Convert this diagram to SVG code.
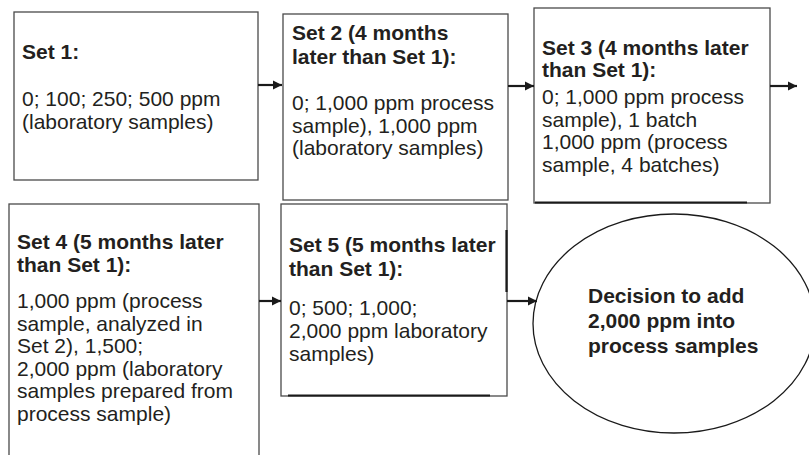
<svg xmlns="http://www.w3.org/2000/svg" width="809" height="455" viewBox="0 0 809 455">
<defs>
<style>
.box{fill:#fff;stroke:#4a4a4a;stroke-width:1.3}
.dk{stroke:#1a1a1a;stroke-width:2.2;fill:none}
.t{font-family:"Liberation Sans",Arial,sans-serif;font-size:21px;fill:#231f20}
.b{font-family:"Liberation Sans",Arial,sans-serif;font-size:21px;font-weight:bold;fill:#231f20}
.conn line{stroke:#1a1a1a;stroke-width:2.2}
</style>
<marker id="ah" viewBox="0 0 10 10" refX="10" refY="5" markerWidth="4.4" markerHeight="4.2" markerUnits="strokeWidth" orient="auto">
<path d="M0,0 L10,5 L0,10 z" fill="#1a1a1a"/>
</marker>
</defs>
<rect width="809" height="455" fill="#fff"/>
<g id="set1">
<rect class="box" x="14" y="12" width="244" height="168"/>
<text class="b" x="22" y="59">Set 1:</text>
<text class="t" x="22" y="106">0; 100; 250; 500 ppm</text>
<text class="t" x="22" y="128.5">(laboratory samples)</text>
</g>
<g id="set2">
<rect class="box" x="283" y="14" width="225" height="186"/>
<text class="b" x="292" y="40">Set 2 (4 months</text>
<text class="b" x="292" y="64">later than Set 1):</text>
<text class="t" x="292" y="110">0; 1,000 ppm process</text>
<text class="t" x="292" y="132.5">sample), 1,000 ppm</text>
<text class="t" x="292" y="155">(laboratory samples)</text>
</g>
<g id="set3">
<rect class="box" x="534" y="8" width="236" height="195"/>
<line class="dk" x1="535" y1="202.5" x2="747" y2="202.5"/>
<text class="b" x="542" y="55">Set 3 (4 months later</text>
<text class="b" x="542" y="77">than Set 1):</text>
<text class="t" x="542" y="104">0; 1,000 ppm process</text>
<text class="t" x="542" y="126.5">sample), 1 batch</text>
<text class="t" x="542" y="149">1,000 ppm (process</text>
<text class="t" x="542" y="171.5">sample, 4 batches)</text>
</g>
<g id="set4">
<rect class="box" x="9" y="204" width="250" height="260"/>
<text class="b" x="17" y="249">Set 4 (5 months later</text>
<text class="b" x="17" y="272">than Set 1):</text>
<text class="t" x="17" y="308">1,000 ppm (process</text>
<text class="t" x="17" y="330.5">sample, analyzed in</text>
<text class="t" x="17" y="353">Set 2), 1,500;</text>
<text class="t" x="17" y="375.5">2,000 ppm (laboratory</text>
<text class="t" x="17" y="398">samples prepared from</text>
<text class="t" x="17" y="420.5">process sample)</text>
</g>
<g id="set5">
<rect class="box" x="281" y="204" width="226" height="192"/>
<line class="dk" x1="288" y1="395.5" x2="490" y2="395.5"/>
<line class="dk" x1="506.5" y1="230" x2="506.5" y2="292"/>
<text class="b" x="289" y="252">Set 5 (5 months later</text>
<text class="b" x="289" y="276">than Set 1):</text>
<text class="t" x="289" y="315">0; 500; 1,000;</text>
<text class="t" x="289" y="338">2,000 ppm laboratory</text>
<text class="t" x="289" y="361">samples)</text>
</g>
<g id="decision">
<ellipse cx="674" cy="323.5" rx="141" ry="109.5" fill="#fff" stroke="#1a1a1a" stroke-width="1.3"/>
<text class="b" x="588" y="303">Decision to add</text>
<text class="b" x="588" y="328">2,000 ppm into</text>
<text class="b" x="588" y="353">process samples</text>
</g>
<g id="connectors" class="conn">
<line x1="258" y1="85" x2="282" y2="85" marker-end="url(#ah)"/>
<line x1="508" y1="86" x2="534" y2="86" marker-end="url(#ah)"/>
<line x1="770" y1="86" x2="797" y2="86" marker-end="url(#ah)"/>
<line x1="259" y1="301" x2="281" y2="301" marker-end="url(#ah)"/>
<line x1="507" y1="301" x2="537" y2="301" marker-end="url(#ah)"/>
</g>
</svg>
